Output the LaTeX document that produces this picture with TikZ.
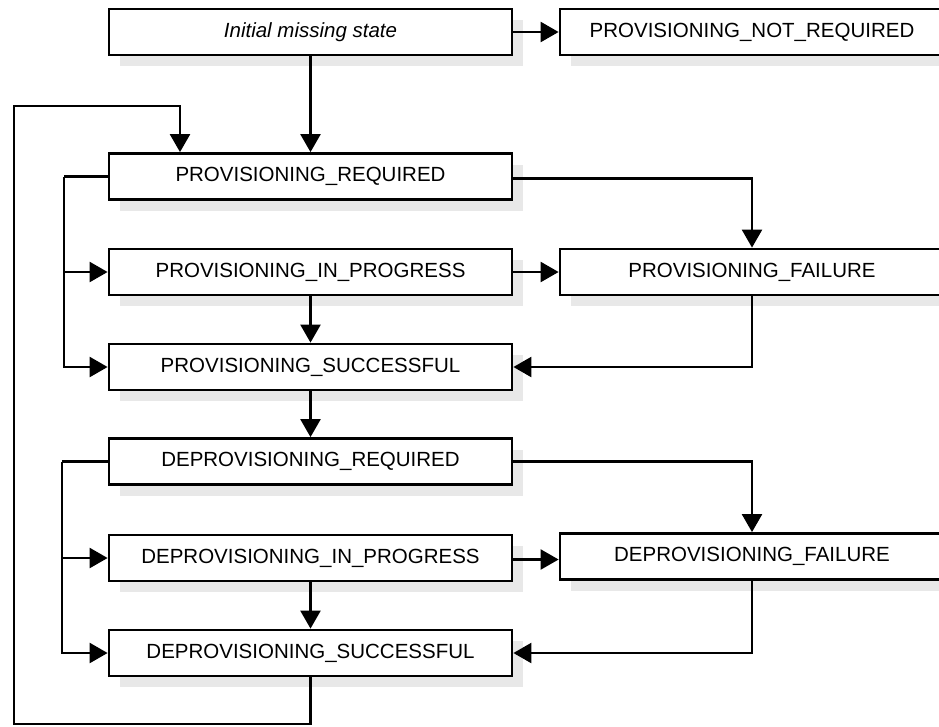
\documentclass[tikz,border=0pt]{standalone}
\usepackage{fontspec}
\setmainfont{Liberation Sans}
\usetikzlibrary{arrows.meta,shadows}
\begin{document}
\begin{tikzpicture}[x=1pt,y=-1pt,
  state/.style={draw, line width=2.8pt, fill=white, minimum width=403pt, minimum height=46pt,
    inner sep=0pt, font=\fontsize{20.5}{24}\selectfont,
    drop shadow={shadow xshift=11pt, shadow yshift=-11pt, fill=black!9, opacity=1}},
  rstate/.style={state, minimum width=384pt},
  conn/.style={line width=2.4pt, -{Triangle[length=18pt,width=20pt]}},
  line/.style={line width=2.4pt}]
\useasboundingbox (0,0) rectangle (939,726);
\clip (0,0) rectangle (939,726);
\node[state] (init) at (310.5,32) {\itshape Initial missing state};
\node[rstate] (pnr) at (752,32) {PROVISIONING\_NOT\_REQUIRED};
\node[state] (pr) at (310.5,176.5) {PROVISIONING\_REQUIRED};
\node[state] (pip) at (310.5,272) {PROVISIONING\_IN\_PROGRESS};
\node[rstate] (pf) at (752,272) {PROVISIONING\_FAILURE};
\node[state] (ps) at (310.5,367) {PROVISIONING\_SUCCESSFUL};
\node[state] (dr) at (310.5,461.5) {DEPROVISIONING\_REQUIRED};
\node[state] (dip) at (310.5,558) {DEPROVISIONING\_IN\_PROGRESS};
\node[rstate] (df) at (752,556.5) {DEPROVISIONING\_FAILURE};
\node[state] (ds) at (310.5,653) {DEPROVISIONING\_SUCCESSFUL};
\coordinate (pbr) at (64,176.5);
\coordinate (dbr) at (62,461.5);
\coordinate (lb) at (14,724);
\coordinate (lt) at (14,106);
% top
\draw[conn] (init.east) -- (pnr.west);
\draw[conn] (init.south) -- (pr.north);
% provisioning
\draw[line] (pr.west) -- (pbr);
\draw[conn] (pbr) |- (pip.west);
\draw[conn] (pbr) |- (ps.west);
\draw[conn] ([yshift=-2]pr.east) -| (pf.north);
\draw[conn] (pip.east) -- (pf.west);
\draw[conn] (pip.south) -- (ps.north);
\draw[conn] (pf.south) |- (ps.east);
\draw[conn] (ps.south) -- (dr.north);
% deprovisioning
\draw[line] (dr.west) -- (dbr);
\draw[conn] (dbr) |- (dip.west);
\draw[conn] (dbr) |- (ds.west);
\draw[conn] (dr.east) -| (df.north);
\draw[conn] ([yshift=-1.5]dip.east) -- ([yshift=-1.5]dip.east -| df.west);
\draw[conn] (dip.south) -- (ds.north);
\draw[conn] (df.south) |- (ds.east);
% loop back
\draw[conn] (ds.south) |- (lb) -- (lt) -| ([xshift=-130.5]pr.north);
\end{tikzpicture}
\end{document}
